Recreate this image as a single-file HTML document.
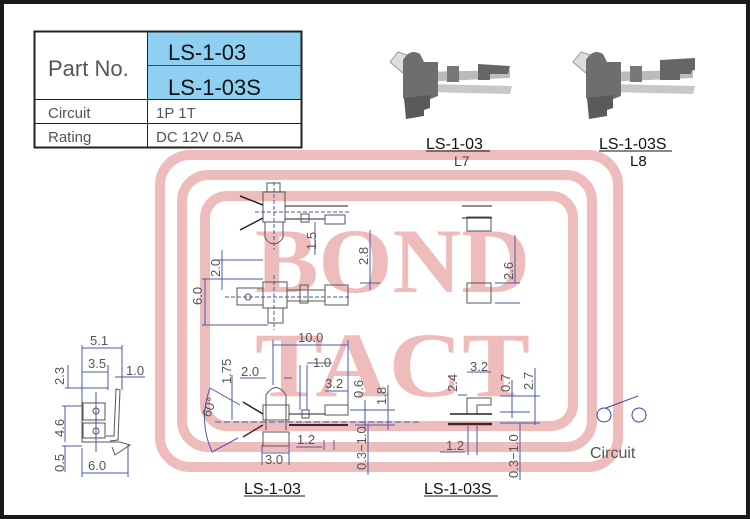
<!DOCTYPE html>
<html><head><meta charset="utf-8"><style>
html,body{margin:0;padding:0;background:#fff}
svg{display:block}
text{font-family:"Liberation Sans",sans-serif}
text.wm{font-family:"Liberation Serif",serif;font-weight:bold}
</style></head><body>
<svg width="750" height="519" viewBox="0 0 750 519" xmlns="http://www.w3.org/2000/svg">
<rect x="0" y="0" width="750" height="519" fill="#1a1a1a"/>
<rect x="4" y="4" width="742" height="511" fill="#fff"/>

<!-- watermark -->
<g fill="none" stroke="#efbcbc" stroke-width="10">
<rect x="160" y="155" width="458" height="312" rx="30"/>
<rect x="182" y="175" width="410" height="272" rx="26"/>
<rect x="205" y="196" width="368" height="230" rx="22"/>
</g>
<g fill="#efbcbc" font-size="92">
<text class="wm" x="255" y="292" textLength="275" lengthAdjust="spacingAndGlyphs">BOND</text>
<text class="wm" x="255" y="396" textLength="275" lengthAdjust="spacingAndGlyphs">TACT</text>
</g>

<!-- table -->
<rect x="148" y="32" width="153" height="67" fill="#8fcff2"/>
<g stroke="#222" fill="none">
<rect x="34.5" y="31.5" width="267" height="116" stroke-width="2"/>
<line x1="147.5" y1="31" x2="147.5" y2="147"/>
<line x1="148" y1="65.5" x2="301" y2="65.5" stroke="#446"/>
<line x1="34" y1="99.5" x2="301" y2="99.5"/>
<line x1="34" y1="123.5" x2="301" y2="123.5"/>
</g>
<text x="48" y="76" font-size="22" fill="#555">Part  No.</text>
<text x="168" y="60" font-size="22" fill="#111">LS-1-03</text>
<text x="168" y="95" font-size="22" fill="#111">LS-1-03S</text>
<g font-size="15" fill="#555">
<text x="48" y="118">Circuit</text><text x="156" y="118">1P  1T</text>
<text x="48" y="142">Rating</text><text x="156" y="142">DC  12V  0.5A</text>
</g>

<!-- 3D images -->
<g id="p1">
<polygon points="390,62 398,52 410,56 404,74" fill="#ddd" stroke="#999"/>
<polygon points="420,72 510,70 510,78 420,82" fill="#bbb"/>
<polygon points="425,84 512,86 510,94 425,92" fill="#c8c8c8"/>
<rect x="447" y="66" width="12" height="16" fill="#777"/>
<polygon points="478,64 510,66 508,74 490,74 490,80 478,80" fill="#666"/>
<path d="M403,98 L403,60 Q410,48 420,54 L424,62 L438,62 L438,96 L428,100 L428,96 L406,100 Z" fill="#6e6e6e"/>
<polygon points="404,98 430,95 430,108 424,110 424,116 406,119" fill="#5a5a5a"/>
</g>
<use href="#p1" x="183"/>
<polygon points="660,60 695,58 695,70 680,72 680,80 660,80" fill="#666"/>

<g font-size="16" fill="#111">
<text x="426" y="149">LS-1-03</text><text x="599" y="149">LS-1-03S</text>
<text x="244" y="494">LS-1-03</text><text x="424" y="494">LS-1-03S</text>
</g>
<line x1="426" y1="151" x2="490" y2="151" stroke="#111"/>
<line x1="599" y1="151" x2="672" y2="151" stroke="#111"/>
<line x1="244" y1="496" x2="305" y2="496" stroke="#111"/>
<line x1="424" y1="496" x2="498" y2="496" stroke="#111"/>
<text x="454" y="166" font-size="14" fill="#444">L7</text>
<text x="630" y="166" font-size="15" fill="#111">L8</text>

<!-- drawings -->
<g fill="none" stroke="#555" stroke-width="1">
<rect x="263" y="192" width="22" height="30"/>
<rect x="267" y="183" width="13" height="9"/>
<path d="M265,222 L265,238 Q274,250 283,238 L283,222"/>
<line x1="240" y1="196" x2="263" y2="205" stroke="#222" stroke-width="1.5"/>
<line x1="240" y1="230" x2="263" y2="218" stroke="#222" stroke-width="1.5"/>
<line x1="285" y1="206" x2="348" y2="206" stroke="#222"/>
<line x1="285" y1="219" x2="325" y2="219" stroke="#222"/>
<rect x="301" y="214" width="8" height="8"/>
<rect x="325" y="215" width="20" height="9"/>
<rect x="263" y="282" width="24" height="26"/>
<rect x="237" y="288" width="26" height="17"/>
<circle cx="248" cy="297" r="3"/>
<rect x="300" y="285" width="8" height="18"/>
<rect x="325" y="285" width="23" height="20"/>
<line x1="287" y1="290" x2="325" y2="290"/><line x1="287" y1="301" x2="325" y2="301"/>
<rect x="268" y="308" width="15" height="15"/>
<path d="M266,430 L266,395 Q276,380 286,395 L286,430"/>
<rect x="263" y="405" width="26" height="15"/>
<rect x="263" y="432" width="26" height="14"/>
<line x1="243" y1="402" x2="263" y2="414" stroke="#222" stroke-width="1.5"/>
<line x1="243" y1="437" x2="263" y2="425" stroke="#522" stroke-width="1.5"/>
<line x1="289" y1="414" x2="325" y2="414" stroke="#222"/>
<line x1="289" y1="425" x2="348" y2="425" stroke="#422" stroke-width="2"/>
<rect x="302" y="410" width="7" height="8"/>
<rect x="325" y="405" width="23" height="10"/>
<rect x="467" y="283" width="24" height="20"/>
<rect x="467" y="217" width="24" height="14"/>
<line x1="462" y1="206" x2="492" y2="206" stroke="#222"/>
<line x1="462" y1="218" x2="492" y2="218" stroke="#222"/>
<path d="M467,414 L467,398 L491,398 L491,405 L477,405 L477,414"/>
<line x1="450" y1="414" x2="492" y2="414" stroke="#222" stroke-width="1.5"/>
<line x1="448" y1="424" x2="492" y2="424" stroke="#422" stroke-width="2.5"/>
<rect x="83" y="403" width="22" height="17"/>
<rect x="83" y="423" width="22" height="15"/>
<circle cx="96" cy="411" r="3"/><circle cx="96" cy="431" r="3"/>
<path d="M82,400 L82,442 L120,442 L130,445 L115,455 L112,447"/>
<path d="M110,441 L118,440 L120,390 L116,389 L114,436 L106,436"/>
<circle cx="604" cy="415" r="7" stroke="#33449a"/>
<circle cx="639" cy="415" r="7" stroke="#33449a"/>
<line x1="606" y1="408" x2="638" y2="396" stroke="#33449a"/>
</g>

<g stroke="#4a5aa8" stroke-width="1" fill="none">
<line x1="274" y1="182" x2="274" y2="250" stroke-dasharray="4,2"/>
<line x1="255" y1="212" x2="350" y2="212" stroke-dasharray="4,2"/>
<line x1="315" y1="222" x2="315" y2="255"/>
<line x1="370" y1="230" x2="370" y2="290"/>
<line x1="360" y1="283" x2="380" y2="283"/>
<line x1="215" y1="260" x2="263" y2="260"/>
<line x1="222" y1="250" x2="222" y2="290"/>
<line x1="202" y1="279" x2="263" y2="279"/>
<line x1="202" y1="325" x2="268" y2="325"/>
<line x1="205" y1="279" x2="205" y2="325"/>
<line x1="225" y1="297" x2="350" y2="297" stroke-dasharray="4,2"/>
<line x1="274" y1="275" x2="274" y2="330" stroke-dasharray="4,2"/>
<line x1="273" y1="345" x2="348" y2="345"/>
<line x1="273" y1="340" x2="273" y2="385"/>
<line x1="348" y1="340" x2="348" y2="405"/>
<line x1="307" y1="363" x2="332" y2="363"/>
<line x1="300" y1="365" x2="300" y2="410"/><line x1="307" y1="365" x2="307" y2="410"/>
<line x1="240" y1="378" x2="266" y2="378"/><line x1="284" y1="378" x2="292" y2="378"/>
<line x1="232" y1="375" x2="232" y2="420"/>
<line x1="325" y1="391" x2="348" y2="391"/>
<line x1="215" y1="422" x2="420" y2="422" stroke-dasharray="6,3"/>
<line x1="365" y1="400" x2="365" y2="430"/>
<line x1="388" y1="385" x2="388" y2="430"/>
<line x1="350" y1="410" x2="395" y2="410"/>
<line x1="355" y1="425" x2="395" y2="425"/>
<line x1="368" y1="425" x2="368" y2="475"/>
<line x1="296" y1="447" x2="322" y2="447"/><line x1="324" y1="440" x2="324" y2="450"/><line x1="334" y1="440" x2="334" y2="450"/>
<line x1="262" y1="453" x2="289" y2="453"/>
<line x1="262" y1="445" x2="262" y2="465"/><line x1="289" y1="445" x2="289" y2="465"/>
<path d="M210,388 Q198,420 212,452"/>
<line x1="210" y1="388" x2="240" y2="405"/><line x1="212" y1="452" x2="238" y2="438"/>
<line x1="467" y1="372" x2="491" y2="372"/>
<line x1="458" y1="395" x2="467" y2="395"/>
<line x1="500" y1="396" x2="540" y2="396"/>
<line x1="512" y1="380" x2="512" y2="418"/>
<line x1="535" y1="368" x2="535" y2="425"/>
<line x1="500" y1="412" x2="530" y2="412"/>
<line x1="500" y1="423" x2="540" y2="423"/>
<line x1="520" y1="423" x2="520" y2="480"/>
<line x1="440" y1="452" x2="465" y2="452"/>
<line x1="468" y1="426" x2="468" y2="455"/><line x1="477" y1="426" x2="477" y2="455"/>
<line x1="515" y1="235" x2="515" y2="283"/>
<line x1="495" y1="283" x2="520" y2="283"/>
<line x1="495" y1="303" x2="520" y2="303"/>
<line x1="82" y1="348" x2="122" y2="348"/>
<line x1="82" y1="345" x2="82" y2="400"/><line x1="122" y1="345" x2="122" y2="390"/>
<line x1="82" y1="372" x2="108" y2="372"/><line x1="108" y1="365" x2="108" y2="390"/>
<line x1="115" y1="377" x2="145" y2="377"/>
<line x1="65" y1="388" x2="108" y2="388"/><line x1="68" y1="365" x2="68" y2="388"/>
<line x1="62" y1="406" x2="82" y2="406"/><line x1="65" y1="406" x2="65" y2="442"/>
<line x1="62" y1="446" x2="82" y2="446"/><line x1="65" y1="446" x2="65" y2="472"/>
<line x1="82" y1="473" x2="128" y2="473"/><line x1="82" y1="448" x2="82" y2="477"/><line x1="128" y1="445" x2="128" y2="477"/>
<line x1="96" y1="392" x2="96" y2="452"/>
</g>

<g fill="#555" font-size="13">
<text x="90" y="345">5.1</text>
<text x="88" y="368">3.5</text>
<text x="126" y="375">1.0</text>
<text x="88" y="470">6.0</text>
<text x="298" y="342">10.0</text>
<text x="313" y="367">1.0</text>
<text x="241" y="376">2.0</text>
<text x="325" y="388">3.2</text>
<text x="297" y="444">1.2</text>
<text x="265" y="464">3.0</text>
<text x="470" y="371">3.2</text>
<text x="446" y="450">1.2</text>
<text x="590" y="458" font-size="16">Circuit</text>
</g>
<g fill="#555" font-size="13">
<text transform="translate(64,385) rotate(-90)">2.3</text>
<text transform="translate(64,437) rotate(-90)">4.6</text>
<text transform="translate(64,472) rotate(-90)">0.5</text>
<text transform="translate(220,277) rotate(-90)">2.0</text>
<text transform="translate(202,305) rotate(-90)">6.0</text>
<text transform="translate(316,250) rotate(-90)">1.5</text>
<text transform="translate(368,265) rotate(-90)">2.8</text>
<text transform="translate(513,280) rotate(-90)">2.6</text>
<text transform="translate(231,384) rotate(-90)">1.75</text>
<text transform="translate(210,418) rotate(-70)">60°</text>
<text transform="translate(363,398) rotate(-90)">0.6</text>
<text transform="translate(386,405) rotate(-90)">1.8</text>
<text transform="translate(366,470) rotate(-90)">0.3−1.0</text>
<text transform="translate(457,392) rotate(-90)">2.4</text>
<text transform="translate(510,392) rotate(-90)">0.7</text>
<text transform="translate(533,390) rotate(-90)">2.7</text>
<text transform="translate(518,478) rotate(-90)">0.3−1.0</text>
</g>
</svg>
</body></html>
